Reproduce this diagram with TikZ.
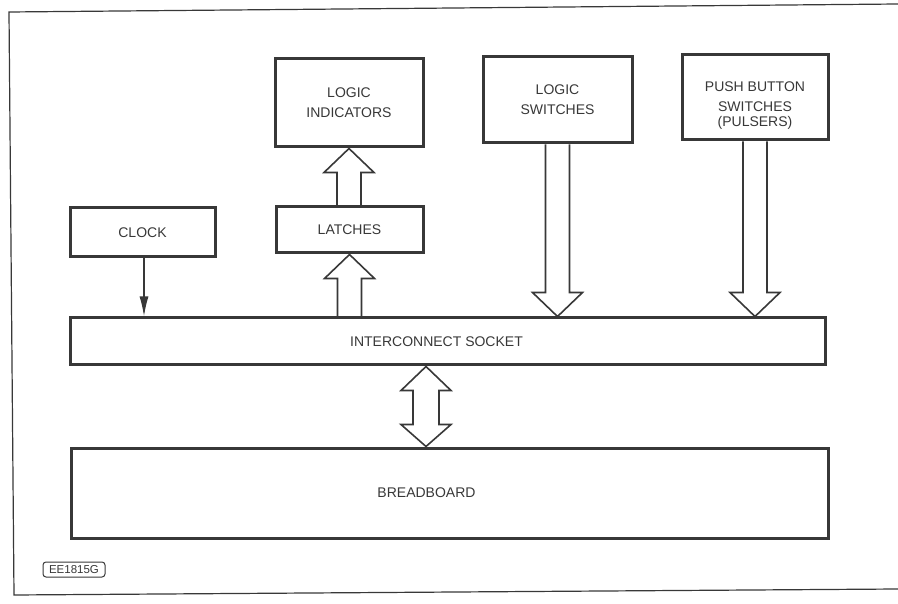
\documentclass[tikz,border=0pt]{standalone}
\usepackage{fontspec}
\setmainfont{Liberation Sans}
\usetikzlibrary{calc,arrows.meta}
\definecolor{ink}{HTML}{383838}

\tikzset{
  unit/.style={draw=ink, line width=3pt, text=ink, align=center, inner sep=0pt,
    font=\fontsize{14}{20}\selectfont},
  caption/.style={text=ink, align=center, inner sep=0pt,
    font=\fontsize{14}{20}\selectfont},
  hollow/.style={draw=ink, line width=1.6pt, line join=miter,
    to path={let \p1=(\tikztostart), \p2=(\tikztotarget), \p3=($(\p2)!24pt!(\p1)$) in
      (\x1-12pt,\y1) -- (\x1-12pt,\y3) -- (\x1-25pt,\y3) -- (\p2)
      -- (\x1+25pt,\y3) -- (\x1+12pt,\y3) -- (\x1+12pt,\y1)}},
  hollowboth/.style={draw=ink, line width=1.6pt, line join=miter,
    to path={let \p1=(\tikztostart), \p2=(\tikztotarget),
      \p3=($(\p1)!24pt!(\p2)$), \p4=($(\p2)!22pt!(\p1)$) in
      (\p1) -- (\x1-25pt,\y3) -- (\x1-13pt,\y3) -- (\x1-13pt,\y4) -- (\x1-25pt,\y4)
      -- (\p2) -- (\x1+25pt,\y4) -- (\x1+13pt,\y4) -- (\x1+13pt,\y3)
      -- (\x1+25pt,\y3) -- cycle}},
  signal/.style={draw=ink, line width=1.5pt, -{Latex[length=20pt,width=9pt]}},
  tag/.style={draw=ink, line width=1pt, rounded corners=3pt, text=ink,
    minimum width=62pt, minimum height=15pt, inner sep=0pt,
    font=\fontsize{11.5}{12}\selectfont},
}

\begin{document}
\begin{tikzpicture}[x=1pt,y=-1pt]
  \useasboundingbox[fill=white] (0,0) rectangle (898,604);
  % frame, open at the right
  \draw[ink, line width=1.2pt] (898,4) -- (9,12) -- (14,595) -- (898,589);

  \node[unit, minimum width=148pt, minimum height=88pt] (indic) at (349,103) {LOGIC\\INDICATORS};
  \node[unit, minimum width=149pt, minimum height=86pt] (lsw) at (557.5,100) {LOGIC\\SWITCHES};
  \node[unit, minimum width=146pt, minimum height=85pt,
    label={[caption, yshift=-8pt]center:PUSH BUTTON\\SWITCHES\\[-5pt](PULSERS)}] (push) at (755,97.5) {};
  \node[unit, minimum width=145pt, minimum height=49pt] (clock) at (142.5,232.5) {CLOCK};
  \node[unit, minimum width=147pt, minimum height=46pt] (latch) at (349.5,230) {LATCHES};
  \node[unit, minimum width=755pt, minimum height=47pt,
    label={[caption, xshift=-11pt]center:INTERCONNECT SOCKET}] (socket) at (447.5,341.5) {};
  \node[unit, minimum width=757pt, minimum height=90pt,
    label={[caption, xshift=-23pt]center:BREADBOARD}] (board) at (449.5,493) {};
  \node[tag] (code) at (74,569.5) {EE1815G};
  \coordinate (link) at (426,400);

  \draw[signal] ([xshift=1.5pt]clock.south) -- ([xshift=1.5pt]clock.south |- socket.north);
  \draw[hollow] (latch.south |- socket.north) to (latch.south);
  \draw[hollow] (indic.south |- latch.north) to (indic.south);
  \draw[hollow] (lsw.south) to (lsw.south |- socket.north);
  \draw[hollow] (push.south) to (push.south |- socket.north);
  \draw[hollowboth] (socket.south -| link) to (board.north -| link);
\end{tikzpicture}
\end{document}
